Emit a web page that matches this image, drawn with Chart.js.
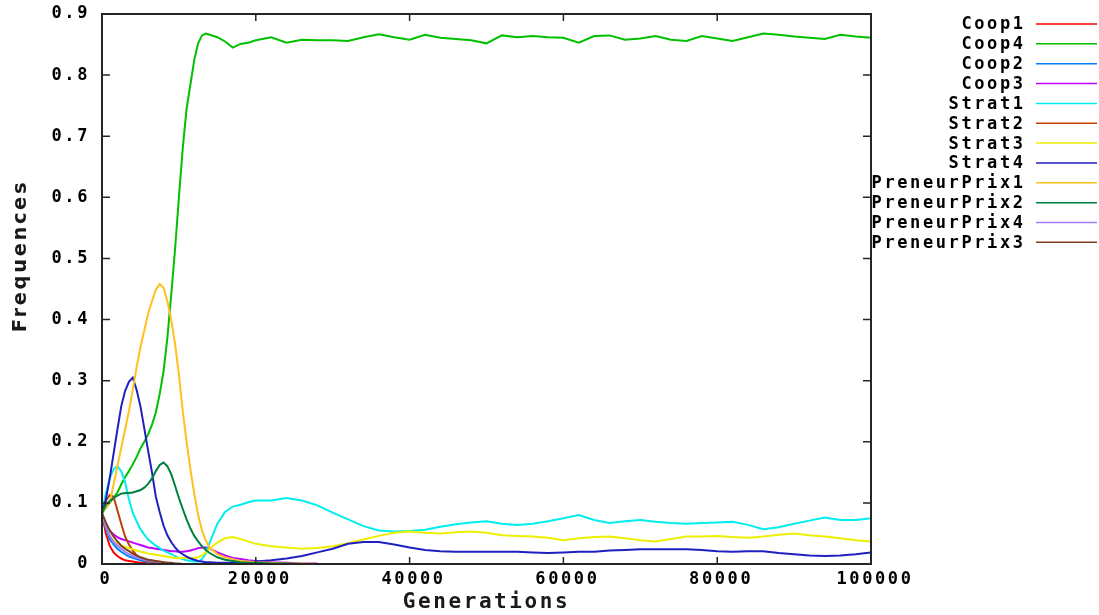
<!DOCTYPE html>
<html>
<head>
<meta charset="utf-8">
<script src="https://cdn.jsdelivr.net/npm/chart.js@4/dist/chart.umd.min.js"></script>
<style>
  body{margin:0;background:#fff;}
  canvas{display:block;}
</style>
</head>
<body>
<canvas id="chart" width="1099" height="615"></canvas>
<script>
// Data (generations on x, frequency on y)
const gensFull=[0,500,1000,1500,2000,2500,3000,3500,4000,4500,5000,5500,6000,6500,7000,7500,8000,8500,9000,9500,
  10000,10500,11000,11500,12000,12500,13000,13500,14000,15000,16000,17000,18000,19000,20000,
  22000,24000,26000,28000,30000,32000,34000,36000,38000,40000,42000,44000,46000,48000,50000,
  52000,54000,56000,58000,60000,62000,64000,66000,68000,70000,72000,74000,76000,78000,80000,
  82000,84000,86000,88000,90000,92000,94000,96000,98000,100000];
const gensEarly=gensFull.slice(0,39);

const coop1=[.083,.05,.03,.019,.013,.009,.006,.005,.004,.003,.002,.002,.001,.001,.001,0,0,0,0,0,
  0,0,0,0,0,0,0,0,0,0,0,0,0,0,0,0,0,0,0];
const coop4=[.083,.092,.100,.108,.117,.130,.142,.152,.163,.175,.189,.200,.212,.228,.248,.278,.315,.37,.44,.515,
  .60,.68,.745,.785,.825,.852,.865,.868,.866,.862,.855,.845,.851,.853,.857,
  .862,.853,.858,.857,.857,.856,.862,.867,.862,.858,.866,.861,.859,.857,.852,
  .865,.862,.864,.862,.861,.853,.864,.865,.858,.86,.864,.858,.856,.864,.86,
  .856,.862,.868,.866,.863,.861,.859,.866,.863,.861];
const coop2=[.083,.058,.041,.032,.025,.02,.016,.012,.01,.008,.006,.005,.004,.003,.002,.002,.001,0,0,0,
  0,0,0,0,0,0,0,0,0,0,0,0,0,0,0,0,0,0,0];
const coop3=[.083,.064,.055,.048,.044,.041,.039,.037,.035,.033,.031,.029,.027,.026,.025,.024,.023,.022,.021,.021,
  .02,.02,.021,.022,.024,.026,.027,.027,.025,.019,.014,.01,.008,.006,.005,.003,.002,.001,.001];
const strat1=[.083,.115,.14,.155,.16,.152,.134,.106,.084,.07,.057,.048,.04,.035,.03,.026,.022,.019,.016,.013,
  .01,.008,.006,.005,.004,.004,.008,.017,.035,.066,.085,.094,.097,.101,.104,
  .104,.108,.104,.096,.084,.073,.062,.055,.053,.054,.056,.061,.065,.068,.07,
  .066,.064,.066,.07,.075,.08,.072,.067,.07,.072,.069,.067,.066,.067,.068,
  .069,.064,.057,.06,.066,.071,.076,.072,.072,.075];
const strat2=[.083,.103,.113,.11,.088,.066,.045,.032,.022,.014,.01,.007,.005,.004,.003,.002,.002,.001,0,0,
  0,0,0,0,0,0,0,0,0,0,0,0,0,0,0,0,0,0,0];
const strat3=[.083,.062,.047,.038,.033,.03,.028,.026,.024,.022,.02,.019,.017,.016,.015,.014,.013,.012,.011,.01,
  .01,.01,.01,.01,.01,.011,.014,.019,.025,.035,.042,.044,.041,.037,.033,
  .029,.027,.025,.026,.029,.034,.04,.046,.051,.053,.051,.05,.052,.053,.051,
  .047,.046,.045,.043,.039,.042,.044,.045,.042,.039,.037,.041,.045,.045,.046,
  .044,.043,.045,.048,.05,.047,.045,.042,.039,.037];
const strat4=[.083,.105,.14,.18,.22,.258,.283,.298,.305,.285,.258,.222,.185,.15,.11,.085,.063,.047,.036,.027,
  .02,.016,.012,.009,.007,.005,.004,.003,.003,.002,.002,.002,.002,.003,.004,
  .006,.009,.013,.019,.025,.033,.036,.036,.032,.027,.023,.021,.02,.02,.02,
  .02,.02,.019,.018,.019,.02,.02,.022,.023,.024,.024,.024,.024,.023,.021,
  .02,.021,.021,.018,.016,.014,.013,.014,.016,.019];
const preneur1=[.083,.092,.1,.13,.16,.19,.22,.25,.285,.322,.355,.382,.41,.43,.449,.458,.452,.43,.4,.36,
  .31,.25,.2,.155,.115,.08,.055,.038,.027,.016,.011,.008,.005,.004,.003,.002,.001,.001,0];
const preneur2=[.083,.097,.103,.108,.112,.115,.116,.116,.117,.119,.121,.125,.131,.14,.152,.162,.166,.16,.147,.128,
  .108,.09,.073,.058,.046,.037,.029,.023,.018,.011,.007,.005,.003,.002,.002,.001,.001,0,0];
const preneur4=[.083,.062,.046,.036,.03,.025,.02,.016,.013,.011,.009,.007,.006,.005,.004,.003,.002,.002,.001,0,
  0,0,0,0,0,0,0,0,0,0,0,0,0,0,0,0,0,0,0];
const preneur3=[.083,.068,.055,.045,.037,.03,.025,.021,.017,.014,.011,.009,.007,.006,.005,.004,.003,.002,.002,.001,
  .001,0,0,0,0,0,0,0,0,0,0,0,0,0,0,0,0,0,0];

const seriesNames=['Coop1','Coop4','Coop2','Coop3','Strat1','Strat2','Strat3','Strat4','PreneurPrix1','PreneurPrix2','PreneurPrix4','PreneurPrix3'];
const seriesValues=[coop1,coop4,coop2,coop3,strat1,strat2,strat3,strat4,preneur1,preneur2,preneur4,preneur3];
const seriesColors=['#ff0000','#00c000','#0080ff','#c000ff','#00eeee','#c04000','#eeee00','#2020c0','#ffc020','#008040','#a080ff','#804020'];
const xTicks=[0,20000,40000,60000,80000,100000];
const yTicks=[0,0.1,0.2,0.3,0.4,0.5,0.6,0.7,0.8,0.9];

const mono='"DejaVu Sans Mono", monospace';
const spacing='2.6px';

// gnuplot-like frame, inward mirrored ticks, legend and y title
const gnuplotLook={
  id:'gnuplotLook',
  beforeDraw(chart){ chart.ctx.letterSpacing=spacing; },
  afterDatasetsDraw(chart){
    const {ctx,chartArea:a,scales:{x,y}}=chart;
    ctx.save();
    ctx.strokeStyle='#262626'; ctx.lineWidth=2;
    ctx.strokeRect(a.left,a.top,a.right-a.left,a.bottom-a.top);
    ctx.lineWidth=1.5; ctx.beginPath();
    yTicks.forEach(v=>{const p=y.getPixelForValue(v);
      ctx.moveTo(a.left,p); ctx.lineTo(a.left+8,p); ctx.moveTo(a.right,p); ctx.lineTo(a.right-8,p);});
    xTicks.forEach(v=>{const p=x.getPixelForValue(v);
      ctx.moveTo(p,a.bottom); ctx.lineTo(p,a.bottom-7); ctx.moveTo(p,a.top); ctx.lineTo(p,a.top+7);});
    ctx.stroke();
    ctx.restore();
  },
  afterDraw(chart){
    const ctx=chart.ctx;
    ctx.save();
    ctx.letterSpacing=spacing;
    // legend
    ctx.font='bold 17px '+mono; ctx.fillStyle='#000'; ctx.textAlign='right'; ctx.textBaseline='middle';
    seriesNames.forEach((n,i)=>{
      const yy=24+i*19.85;
      ctx.fillText(n,1025.6,yy+1);
      ctx.strokeStyle=seriesColors[i]; ctx.lineWidth=1.5;
      ctx.beginPath(); ctx.moveTo(1036,yy); ctx.lineTo(1097,yy); ctx.stroke();
    });
    // y title
    ctx.translate(21,256); ctx.rotate(-Math.PI/2);
    ctx.font='bold 19.5px "DejaVu Sans"'; ctx.textAlign='center'; ctx.fillStyle='#1a1a1a';
    ctx.fillText('Frequences',0,0);
    ctx.restore();
  }
};

const ctx=document.getElementById('chart').getContext('2d');
const chart=new Chart(ctx,{
  type:'line',
  data:{
    datasets:seriesNames.map((n,i)=>{
      const xs=seriesValues[i].length===gensFull.length?gensFull:gensEarly;
      return {label:n,data:xs.map((g,j)=>({x:g,y:seriesValues[i][j]})),
        borderColor:seriesColors[i],borderWidth:2,pointRadius:0,tension:0,fill:false,order:seriesNames.length-i};
    })
  },
  options:{
    responsive:false, animation:false, events:[],
    layout:{padding:{top:14,right:228,left:0,bottom:0}},
    plugins:{legend:{display:false},tooltip:{enabled:false}},
    scales:{
      x:{type:'linear',min:0,max:100000,
        afterBuildTicks:s=>{s.ticks=xTicks.map(v=>({value:v}));},
        ticks:{callback:v=>String(v),color:'#000',font:{family:mono,size:17,weight:'bold'},padding:5,labelOffset:4,maxRotation:0,autoSkip:false},
        grid:{display:false,drawTicks:false},border:{display:false},
        title:{display:true,text:'Generations',color:'#1a1a1a',font:{family:mono,size:21,weight:'bold'},padding:0},
        afterFit:s=>{s.height=51; s.paddingLeft=0; s.paddingRight=0;}},
      y:{type:'linear',min:0,max:0.9,
        afterBuildTicks:s=>{s.ticks=yTicks.map(v=>({value:v}));},
        ticks:{callback:v=>v===0?'0':v.toFixed(1),color:'#000',font:{family:mono,size:17,weight:'bold'},padding:12},
        grid:{display:false,drawTicks:false},border:{display:false},
        afterFit:s=>{s.width=102; s.paddingTop=0; s.paddingBottom=0;}}
    }
  },
  plugins:[gnuplotLook]
});
</script>
</body>
</html>
